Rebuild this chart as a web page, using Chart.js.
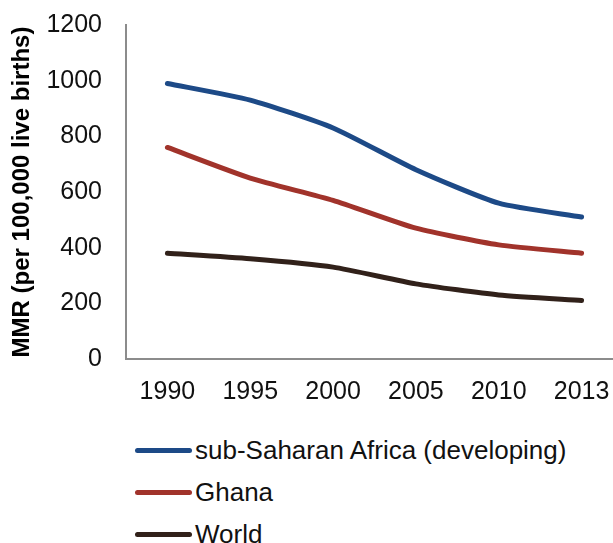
<!DOCTYPE html>
<html>
<head>
<meta charset="utf-8">
<script src="https://cdn.jsdelivr.net/npm/chart.js@4/dist/chart.umd.min.js"></script>
<style>
  html, body { margin: 0; padding: 0; background: #fff; overflow: hidden; }
  #wrap { position: relative; width: 613px; height: 543px; overflow: hidden; }
  #chartBox { position: absolute; left: 0; top: -6px; width: 623px; height: 415px; }
  #legend { position: absolute; left: 135px; top: 429px; font-family: "Liberation Sans", sans-serif; font-size: 26px; color: #111; }
  .item { height: 42px; display: flex; align-items: center; }
  .swatch { width: 57px; height: 5px; border-radius: 3px; margin-right: 3px; }
</style>
</head>
<body>
<div id="wrap">
  <div id="chartBox"><canvas id="mmrChart"></canvas></div>
  <div id="legend"></div>
</div>
<script>
const years = ["1990", "1995", "2000", "2005", "2010", "2013"];
const seriesNames = ["sub-Saharan Africa (developing)", "Ghana", "World"];
const ssaValues = [990, 930, 830, 680, 560, 510];
const ghanaValues = [760, 650, 570, 470, 410, 380];
const worldValues = [380, 360, 330, 270, 230, 210];
const seriesColors = ["#1d4a87", "#a1332b", "#31211a"];
const yTicks = [0, 200, 400, 600, 800, 1000, 1200];

const allValues = [ssaValues, ghanaValues, worldValues];

const ctx = document.getElementById("mmrChart").getContext("2d");
const mmrChart = new Chart(ctx, {
  type: "line",
  data: {
    labels: years,
    datasets: seriesNames.map((name, i) => ({
      label: name,
      data: allValues[i],
      borderColor: seriesColors[i],
      backgroundColor: seriesColors[i],
      borderWidth: 5,
      borderCapStyle: "round",
      borderJoinStyle: "round",
      pointRadius: 0,
      tension: 0.2,
      fill: false,
    })),
  },
  options: {
    responsive: true,
    maintainAspectRatio: false,
    animation: false,
    layout: { padding: 0 },
    plugins: {
      legend: { display: false },
      tooltip: { enabled: false },
    },
    scales: {
      x: {
        offset: true,
        grid: { display: false, offset: true },
        border: { display: true, color: "#8c8c8c", width: 2 },
        afterFit: (scale) => {
          scale.height = 50;
        },
        ticks: {
          color: "#111",
          padding: 10,
          maxRotation: 0,
          font: { family: "Liberation Sans", size: 25 },
        },
      },
      y: {
        min: 0,
        max: 1200,
        afterBuildTicks: (scale) => {
          scale.ticks = yTicks.map((v) => ({ value: v }));
        },
        afterFit: (scale) => {
          scale.width = 126;
        },
        grid: { display: false },
        border: { display: true, color: "#8c8c8c", width: 2 },
        ticks: {
          color: "#111",
          padding: 16,
          callback: (v) => String(v),
          font: { family: "Liberation Sans", size: 25 },
        },
        title: {
          display: true,
          text: "MMR (per 100,000 live births)",
          color: "#000",
          padding: { top: 8, bottom: 0 },
          font: { family: "Liberation Sans", size: 24, weight: "bold" },
        },
      },
    },
  },
});

// Legend drawn as html list below the chart
const legendBox = document.getElementById("legend");
seriesNames.forEach((name, i) => {
  const row = document.createElement("div");
  row.className = "item";
  const sw = document.createElement("div");
  sw.className = "swatch";
  sw.style.background = seriesColors[i];
  const label = document.createElement("span");
  label.textContent = name;
  row.appendChild(sw);
  row.appendChild(label);
  legendBox.appendChild(row);
});
</script>
</body>
</html>
